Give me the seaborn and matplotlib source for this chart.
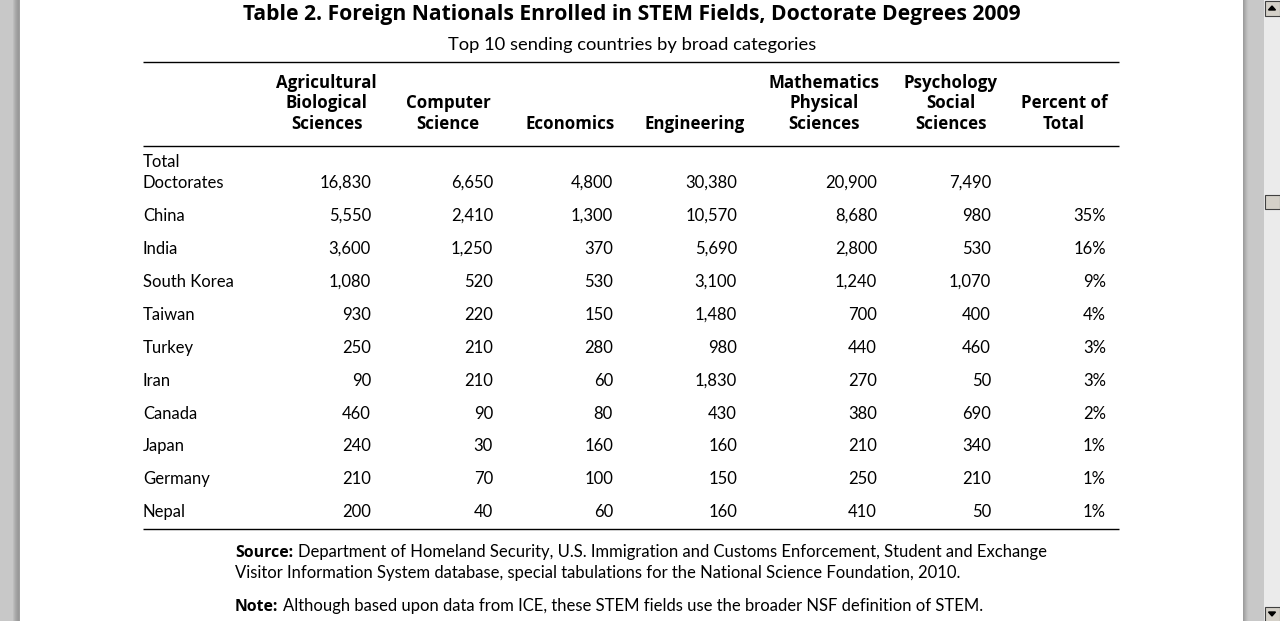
import matplotlib
matplotlib.use("Agg")
import matplotlib.pyplot as plt
import seaborn as sns
from matplotlib.patches import Rectangle, Polygon

# ---------------- data ----------------
title = "Table 2. Foreign Nationals Enrolled in STEM Fields, Doctorate Degrees 2009"
subtitle = "Top 10 sending countries by broad categories"
columns = [
    ["Agricultural", "Biological", "Sciences"],
    ["Computer", "Science"],
    ["Economics"],
    ["Engineering"],
    ["Mathematics", "Physical", "Sciences"],
    ["Psychology", "Social", "Sciences"],
    ["Percent of", "Total"],
]
row_labels = [["Total", "Doctorates"], ["China"], ["India"], ["South Korea"], ["Taiwan"],
              ["Turkey"], ["Iran"], ["Canada"], ["Japan"], ["Germany"], ["Nepal"]]
agri = [16830, 5550, 3600, 1080, 930, 250, 90, 460, 240, 210, 200]
comp = [6650, 2410, 1250, 520, 220, 210, 210, 90, 30, 70, 40]
econ = [4800, 1300, 370, 530, 150, 280, 60, 80, 160, 100, 60]
engi = [30380, 10570, 5690, 3100, 1480, 980, 1830, 430, 160, 150, 160]
math = [20900, 8680, 2800, 1240, 700, 440, 270, 380, 210, 250, 410]
psyc = [7490, 980, 530, 1070, 400, 460, 50, 690, 340, 210, 50]
pct = [None, 35, 16, 9, 4, 3, 3, 2, 1, 1, 1]
source_bold = "Source:"
source_text = ["Department of Homeland Security, U.S. Immigration and Customs Enforcement, Student and Exchange",
               "Visitor Information System database, special tabulations for the National Science Foundation, 2010."]
note_bold = "Note:"
note_text = "Although based upon data from ICE, these STEM fields use the broader NSF definition of STEM."

# ---------------- layout ----------------
sns.set_theme(style="white")
BODY = ["Lato", "DejaVu Sans"]
BOLD = ["Open Sans", "DejaVu Sans"]
plt.rcParams["font.family"] = BODY

W, H = 1280, 621
fig = plt.figure(figsize=(W / 100, H / 100), dpi=100)
ax = fig.add_axes([0, 0, 1, 1])
ax.set_xlim(0, W)
ax.set_ylim(H, 0)
ax.axis("off")

FS = 12.0
HFS = 12.2
col_right = [371, 493, 613, 737, 877, 991, 1106]
col_center = [326.5, 448, 570, 695, 824, 950.5, 1064]
row_base = [188, 221, 254, 287, 320, 353, 386, 419, 451, 484, 517]
label_x = 143
row_step = 21
head_base = 129
head_step = 20.5

ax.text(632, 20, title, ha="center", va="baseline", fontsize=15.2, fontweight="bold",
        family=BOLD, color="black")
ax.text(632, 50, subtitle, ha="center", va="baseline", fontsize=13.2, color="black")

for y in (62, 146, 529):
    ax.plot([143, 1119], [y, y], color="black", lw=1.0, solid_capstyle="butt")

# headers
for cx, lines in zip(col_center, columns):
    n = len(lines)
    for i, ln in enumerate(lines):
        y = head_base - (n - 1 - i) * head_step
        ax.text(cx, y, ln, ha="center", va="baseline", fontsize=HFS, fontweight="bold",
                family=BOLD, color="black")

# rows
series = [agri, comp, econ, engi, math, psyc]
for r, (lab, y) in enumerate(zip(row_labels, row_base)):
    n = len(lab)
    for i, ln in enumerate(lab):
        ax.text(label_x, y - (n - 1 - i) * row_step, ln, ha="left", va="baseline", fontsize=FS, color="black")
    for c, s in enumerate(series):
        ax.text(col_right[c], y, f"{s[r]:,}", ha="right", va="baseline", fontsize=FS, color="black")
    if pct[r] is not None:
        ax.text(col_right[6], y, f"{pct[r]}%", ha="right", va="baseline", fontsize=FS, color="black")

# footnotes
fig.canvas.draw()
renderer = fig.canvas.get_renderer()
inv = ax.transData.inverted()
FN = 12.0

def bold_then_text(x, y, b, t):
    tb = ax.text(x, y, b, ha="left", va="baseline", fontsize=11.4, fontweight="bold",
                 family=BOLD, color="black")
    bb = tb.get_window_extent(renderer=renderer)
    x1 = inv.transform((bb.x1, 0))[0]
    ax.text(x1 + 5, y, t, ha="left", va="baseline", fontsize=FN, color="black")

bold_then_text(235, 557, source_bold, source_text[0])
ax.text(235, 578, source_text[1], ha="left", va="baseline", fontsize=FN, color="black")
bold_then_text(235, 611, note_bold, note_text)

# ---------------- window frame ----------------
ax.add_patch(Rectangle((0, 0), 13, H, color="#c8c8c8", lw=0, zorder=5))
shades = ["#bdbdbd", "#b3b3b3", "#aaaaaa", "#a3a3a3", "#9d9d9d", "#999999", "#a0a0a0"]
for i, c in enumerate(shades):
    ax.add_patch(Rectangle((13 + i, 0), 1, H, color=c, lw=0, zorder=5))
rshades = ["#9d9d9d", "#a6a6a6", "#b0b0b0", "#b9b9b9", "#c1c1c1", "#c6c6c6", "#c8c8c8"]
for i, c in enumerate(rshades):
    ax.add_patch(Rectangle((1243 + i, 0), 1, H, color=c, lw=0, zorder=5))
ax.add_patch(Rectangle((1250, 0), 14, H, color="#c8c8c8", lw=0, zorder=5))
ax.add_patch(Rectangle((1264, 0), 16, H, color="#ebebeb", lw=0, zorder=5))
for (y0, up) in ((0, True), (606, False)):
    ax.add_patch(Rectangle((1264.5, y0 + 0.5), 15, 15, facecolor="#d4d0c8", edgecolor="#404040", lw=0.8, zorder=6))
    cx, cy = 1272, y0 + 8
    pts = [(cx - 3.5, cy + 2), (cx + 3.5, cy + 2), (cx, cy - 2)] if up else [(cx - 3.5, cy - 2), (cx + 3.5, cy - 2), (cx, cy + 2)]
    ax.add_patch(Polygon(pts, closed=True, color="black", zorder=7))
ax.add_patch(Rectangle((1264.5, 195), 15, 14, facecolor="#d4d0c8", edgecolor="#404040", lw=0.8, zorder=6))

fig.savefig("out.png", dpi=100, facecolor="white")
